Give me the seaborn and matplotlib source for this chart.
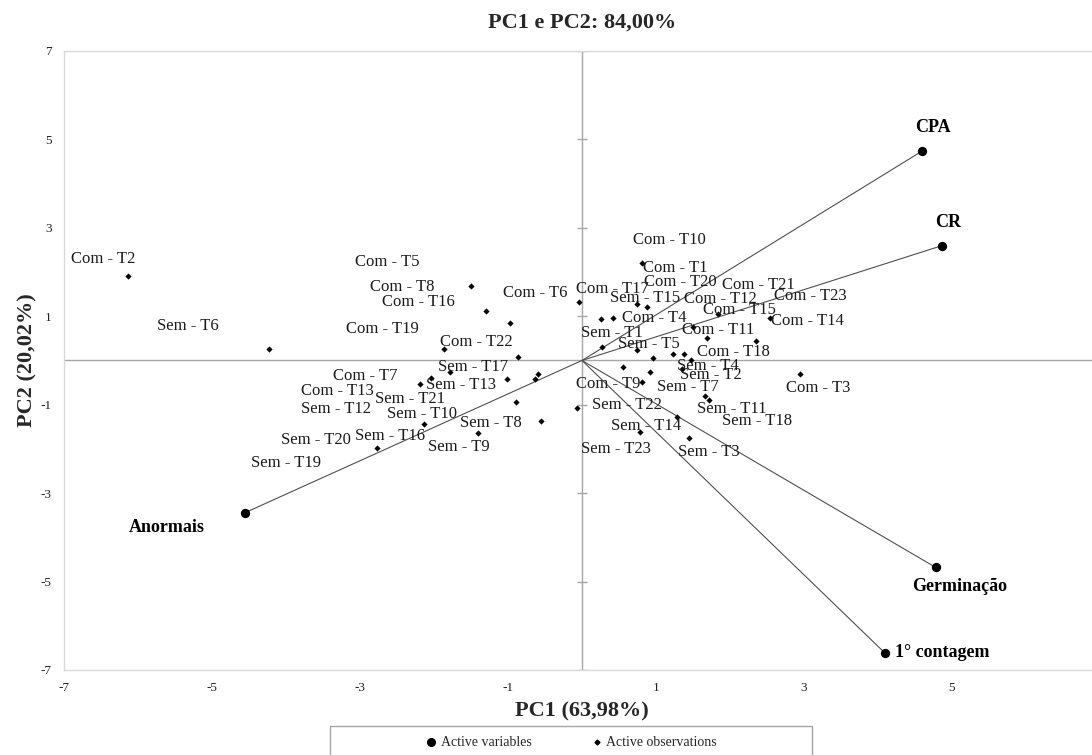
import matplotlib
matplotlib.use("Agg")
import matplotlib.pyplot as plt
from matplotlib.lines import Line2D
from matplotlib.patches import Rectangle
import pandas as pd
import seaborn as sns

# PCA scores of the observations
obs_names = [
    "Com - T2", "Sem - T6", "Com - T5", "Com - T8", "Com - T16", "Com - T6",
    "Com - T19", "Com - T22", "Sem - T17", "Com - T7", "Com - T13", "Sem - T13",
    "Sem - T21", "Sem - T12", "Sem - T10", "Sem - T8", "Sem - T20", "Sem - T16",
    "Sem - T9", "Sem - T19",
    "Com - T1", "Com - T10", "Com - T20", "Com - T17", "Sem - T15", "Com - T21",
    "Com - T23", "Com - T12", "Com - T15", "Com - T14", "Sem - T1", "Com - T4",
    "Sem - T5", "Com - T11", "Com - T18", "Sem - T4", "Sem - T22", "Sem - T2",
    "Sem - T7", "Com - T3", "Com - T9", "Sem - T11", "Sem - T18", "Sem - T23",
    "Sem - T14", "Sem - T3",
]
obs_pc1 = [
    -6.13, -4.23, -1.50, -1.30, -0.97, -0.04, -1.87, -0.86, -1.79, -2.04,
    -2.19, -0.59, -0.63, -1.02, -0.89, -0.55, -0.07, -2.14, -1.41, -2.77,
    0.81, 0.74, 0.88, 0.26, 0.42, 1.84, 2.54, 1.50, 1.69, 2.35,
    0.27, 0.74, 0.96, 1.23, 1.38, 1.48, 0.56, 1.35, 0.92, 2.95,
    0.81, 1.66, 1.72, 1.28, 0.79, 1.45,
]
obs_pc2 = [
    1.91, 0.27, 1.68, 1.11, 0.84, 1.33, 0.25, 0.07, -0.26, -0.39,
    -0.53, -0.30, -0.43, -0.41, -0.94, -1.36, -1.07, -1.44, -1.64, -1.98,
    2.21, 1.28, 1.21, 0.93, 0.95, 1.06, 0.97, 0.76, 0.51, 0.45,
    0.30, 0.23, 0.06, 0.15, 0.15, 0.00, -0.14, -0.20, -0.26, -0.30,
    -0.48, -0.81, -0.90, -1.27, -1.61, -1.76,
]

# label placement (pixel offsets from the point, y pointing down)
obs_label_dx = [
    -25, -81, -84, -84, -92, -44, -61, -42, 24, -66,
    -83, -77, -125, -171, -94, -50, -261, -34, -19, -91,
    33, 33, 33, 11, 32, 40, 40, 27, 32, 52,
    10, 18, -4, 45, 49, 16, 4, 29, 38, 18,
    -34, 27, 48, -61, 6, 20,
]
obs_label_dy = [
    -17, -23, -24, -24, -21, -9, -20, -15, -5, -2,
    7, 11, 20, 30, 12, 2, 32, 12, 14, 15,
    5, -64, -25, -30, -20, -29, -22, -28, -28, -20,
    -14, -32, -14, -24, -2, 6, 38, 6, 15, 14,
    2, 13, 21, 32, -6, 14,
]

# loadings of the active variables
var_names = ["CPA", "CR", "Germinação", "1° contagem", "Anormais"]
var_pc1 = [4.60, 4.87, 4.78, 4.09, -4.55]
var_pc2 = [4.74, 2.60, -4.68, -6.61, -3.44]
var_label_dx = [11, 6, 24, 10, -78]
var_label_dy = [-23, -23, 19, 0, 15]
var_label_ha = ["center", "center", "center", "left", "center"]

xticks = [-7, -5, -3, -1, 1, 3, 5]
yticks = [-7, -5, -3, -1, 1, 3, 5, 7]

obs = pd.DataFrame({"name": obs_names, "PC1": obs_pc1, "PC2": obs_pc2})
var = pd.DataFrame({"name": var_names, "PC1": var_pc1, "PC2": var_pc2})

sns.set_theme(style="white")
plt.rcParams["font.family"] = ["Liberation Serif", "DejaVu Serif"]

fig = plt.figure(figsize=(10.92, 7.55), dpi=100)
ax = fig.add_axes([0.0586, 0.1126, 0.9487, 0.8199])

# zero axes, the vertical one carries small cross ticks
ax.axhline(0, color="#a6a6a6", lw=1.0, zorder=1)
ax.axvline(0, color="#a6a6a6", lw=1.0, zorder=1)
ax.plot([0] * len(yticks), yticks, ls="none", marker="_", ms=7, color="#a6a6a6", mew=1.0)

# vectors from origin
for x, y in zip(var_pc1, var_pc2):
    ax.plot([0, x], [0, y], color="#505050", lw=0.8, zorder=2)

sns.scatterplot(data=obs, x="PC1", y="PC2", marker="D", s=10, color="black",
                linewidth=0, ax=ax, zorder=3)
sns.scatterplot(data=var, x="PC1", y="PC2", marker="o", s=45, color="black",
                linewidth=0, ax=ax, zorder=4)

px2pt = 0.72
for name, x, y, dx, dy in zip(obs_names, obs_pc1, obs_pc2, obs_label_dx, obs_label_dy):
    ax.annotate(name, (x, y), xytext=(dx * px2pt, -dy * px2pt),
                textcoords="offset points", ha="center", va="center",
                fontsize=12, color="#1a1a1a")
for name, x, y, dx, dy, ha in zip(var_names, var_pc1, var_pc2,
                                  var_label_dx, var_label_dy, var_label_ha):
    ax.annotate(name, (x, y), xytext=(dx * px2pt, -dy * px2pt),
                textcoords="offset points", ha=ha, va="center",
                fontsize=13, fontweight="bold", color="black")

ax.set_xlim(-7, 7)
ax.set_ylim(-7, 7)
ax.set_xticks(xticks)
ax.set_yticks(yticks)
ax.set_xticklabels([str(t) for t in xticks])
ax.set_yticklabels([str(t) for t in yticks])
ax.tick_params(axis="both", length=0, labelsize=9.5, colors="#222222")
ax.tick_params(axis="x", pad=9)
ax.tick_params(axis="y", pad=9)
for side in ["top", "left", "bottom", "right"]:
    ax.spines[side].set_color("#d9d9d9")
    ax.spines[side].set_linewidth(1.0)

ax.set_xlabel("PC1 (63,98%)", fontsize=16, fontweight="bold", labelpad=5)
ax.set_ylabel("PC2 (20,02%)", fontsize=16, fontweight="bold", labelpad=2)
ax.set_title("PC1 e PC2: 84,00%", fontsize=16, fontweight="bold", pad=17)

# legend box at the bottom
fig.add_artist(Rectangle((0.302, -0.02), 0.442, 0.058, transform=fig.transFigure,
                         fill=False, ec="#a6a6a6", lw=1.0))
handles = [
    Line2D([], [], ls="none", marker="o", ms=5.5, color="black", label="Active variables"),
    Line2D([], [], ls="none", marker="D", ms=2.5, color="black", label="Active observations"),
]
fig.legend(handles=handles, loc="center", bbox_to_anchor=(0.523, 0.016), ncol=2,
           frameon=False, fontsize=10, handlelength=0.8, handletextpad=0.3,
           columnspacing=4.3)

fig.savefig("out.png", dpi=100)
plt.close(fig)
